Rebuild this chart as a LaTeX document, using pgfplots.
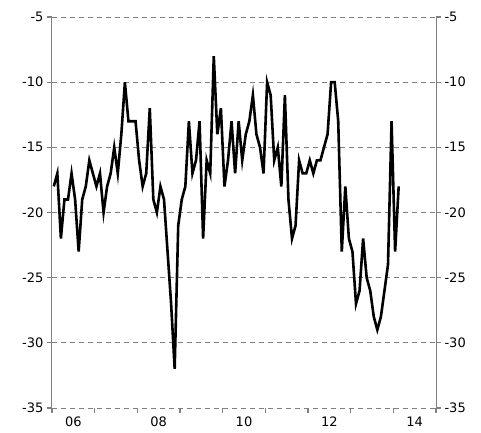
\documentclass[border=0pt]{standalone}
\usepackage{pgfplots}
\pgfplotsset{compat=1.18}
\usepackage{fontspec}
\setmainfont{DejaVu Sans}
\definecolor{gridgray}{RGB}{128,128,128}
\pgfplotstableread{
i v
0 -18
1 -17
2 -22
3 -19
4 -19
5 -17
6 -19
7 -23
8 -19
9 -18
10 -16
11 -17
12 -18
13 -17
14 -20
15 -18
16 -17
17 -15
18 -17
19 -14
20 -10
21 -13
22 -13
23 -13
24 -16
25 -18
26 -17
27 -12
28 -19
29 -20
30 -18
31 -19
32 -23
33 -27
34 -32
35 -21
36 -19
37 -18
38 -13
39 -17
40 -16
41 -13
42 -22
43 -16
44 -17
45 -8
46 -14
47 -12
48 -18
49 -16
50 -13
51 -17
52 -13
53 -16
54 -14
55 -13
56 -11
57 -14
58 -15
59 -17
60 -10
61 -11
62 -16
63 -15
64 -18
65 -11
66 -19
67 -22
68 -21
69 -16
70 -17
71 -17
72 -16
73 -17
74 -16
75 -16
76 -15
77 -14
78 -10
79 -10
80 -13
81 -23
82 -18
83 -22
84 -23
85 -27
86 -26
87 -22
88 -25
89 -26
90 -28
91 -29
92 -28
93 -26
94 -24
95 -13
96 -23
97 -18
}\datatable
\begin{document}
\begin{tikzpicture}
\path[use as bounding box] (-52pt,-24pt) rectangle (429pt,408pt);
\pgfplotsset{
  common/.style={
    scale only axis, width=384pt, height=391pt,
    xmin=-0.5, xmax=107.5, ymin=-35, ymax=-5,
    y axis line style={draw=gridgray, line width=1pt, solid, -},
    ytick={-35,-30,...,-5},
    yticklabels={-35,-30,-25,-20,-15,-10,-5},
    tick align=outside,
    major tick length=5pt,
    every tick/.append style={solid, draw=gridgray, line width=1.2pt},
    tick label style={font=\fontsize{13}{15}\selectfont},
  }
}
\begin{axis}[common,
  axis x line*=bottom, axis y line*=left,
  x axis line style={draw=gridgray, dash pattern=on 5pt off 4pt, line width=1pt, -},
  ymajorgrids,
  grid style={draw=gridgray, dash pattern=on 5pt off 4pt, line width=1pt},
  xtick={-0.5,11.5,...,107.5}, xticklabels={},
  extra x ticks={5.5,29.5,53.5,77.5,101.5},
  extra x tick labels={06,08,10,12,14},
  extra x tick style={tick style={draw=none}, grid=none},
]
\addplot[black, line width=2.6pt] table[x=i, y=v] {\datatable};
\end{axis}
\begin{axis}[common,
  axis x line=none, axis y line*=right,
  xtick=\empty,
]
\end{axis}
\end{tikzpicture}
\end{document}
